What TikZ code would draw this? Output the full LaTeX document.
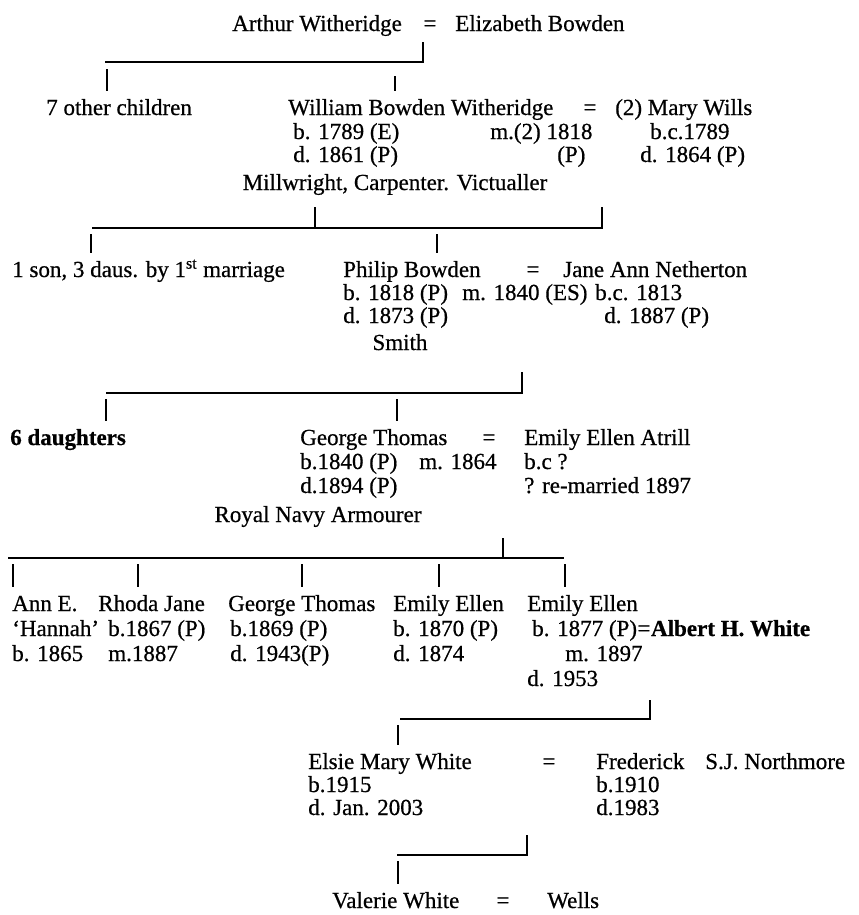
\documentclass[tikz,border=0pt]{standalone}
\usepackage{fontspec}
\setmainfont{Liberation Serif}
\newfontfamily\scanfont{Liberation Serif}[FakeBold=0.6]
\usepackage{tikz}

\newcommand{\treefont}{\scanfont\fontsize{17.25pt}{20pt}\selectfont}
\tikzset{
  txt/.style={anchor=base west, inner sep=0pt, font=\treefont},
  eq/.style={anchor=base, inner sep=0pt, font=\treefont},
  kid/.style={txt, text height=12pt},
  link/.style={line width=0.8pt},
  drop/.style={link, shorten >=6pt},
}

\begin{document}
\begin{tikzpicture}[x=0.75pt, y=-0.75pt]
  \useasboundingbox (0,0) rectangle (858,915);

  % Arthur and Elizabeth
  \node[txt] (arthur) at (232,31) {Arthur Witheridge};
  \node[eq] (eqArthur) at (430,31) {=};
  \node[txt] (elizabeth) at (455,31) {Elizabeth Bowden};
  \coordinate (topA) at (423,42);
  \coordinate (cornerA) at (423,62);
  \coordinate (barA) at (105,62);
  \coordinate (dropA1) at (107,69);
  \coordinate (dropA2) at (395,76);
  \draw[link] (topA) -- (cornerA) -- (barA);

  \node[kid] (otherKids) at (46,115) {7 other children};
  \node[kid] (william) at (288,115) {William Bowden Witheridge};
  \node[eq] (eqWilliam) at (590,115) {=};
  \node[txt] (mary) at (615,115) {(2) Mary Wills};
  \node[txt] (williamB) at (293,139) {b. 1789 (E)};
  \node[txt] (williamM) at (490,139) {m.(2) 1818};
  \node[txt] (maryB) at (650,139) {b.c.1789};
  \node[txt] (williamD) at (293,162) {d. 1861 (P)};
  \node[txt] (williamP) at (557,162) {(P)};
  \node[txt] (maryD) at (640,162) {d. 1864 (P)};
  \node[eq] (williamJob) at (395,190) {Millwright, Carpenter. Victualler};
  \draw[drop] (dropA1) -- (dropA1 |- otherKids.north);
  \draw[drop] (dropA2) -- (dropA2 |- william.north);

  % William and Mary
  \coordinate (topB1) at (315,207);
  \coordinate (topB2) at (602,207);
  \coordinate (tickB) at (315,228);
  \coordinate (cornerB) at (602,228);
  \coordinate (barB) at (92,228);
  \coordinate (dropB1) at (91,234);
  \coordinate (dropB2) at (437,234);
  \draw[link] (topB2) -- (cornerB) -- (barB);
  \draw[link] (topB1) -- (tickB);

  \node[kid] (firstKids) at (12,277) {1 son, 3 daus. by 1\textsuperscript{st} marriage};
  \node[kid] (philip) at (343,277) {Philip Bowden};
  \node[eq] (eqPhilip) at (533,277) {=};
  \node[txt] (jane) at (563,277) {Jane Ann Netherton};
  \node[txt] (philipB) at (343,300) {b. 1818 (P)};
  \node[txt] (philipM) at (462,300) {m. 1840 (ES)};
  \node[txt] (janeB) at (595,300) {b.c. 1813};
  \node[txt] (philipD) at (343,323) {d. 1873 (P)};
  \node[txt] (janeD) at (604,323) {d. 1887 (P)};
  \node[eq] (philipJob) at (400,350) {Smith};
  \draw[drop] (dropB1) -- (dropB1 |- firstKids.north);
  \draw[drop] (dropB2) -- (dropB2 |- philip.north);

  % Philip and Jane
  \coordinate (topC) at (522,372);
  \coordinate (cornerC) at (522,393);
  \coordinate (barC) at (106,393);
  \coordinate (dropC1) at (106,399);
  \coordinate (dropC2) at (397,399);
  \draw[link] (topC) -- (cornerC) -- (barC);

  \node[kid] (daughters) at (10,445) {\bfseries 6 daughters};
  \node[kid] (george) at (300,445) {George Thomas};
  \node[eq] (eqGeorge) at (489,445) {=};
  \node[txt] (emilyA) at (524,445) {Emily Ellen Atrill};
  \node[txt] (georgeB) at (300,469) {b.1840 (P)};
  \node[txt] (georgeM) at (419,469) {m. 1864};
  \node[txt] (emilyAB) at (524,469) {b.c ?};
  \node[txt] (georgeD) at (300,493) {d.1894 (P)};
  \node[txt] (emilyAR) at (524,493) {? re-married 1897};
  \node[eq] (georgeJob) at (318,522) {Royal Navy Armourer};
  \draw[drop] (dropC1) -- (dropC1 |- daughters.north);
  \draw[drop] (dropC2) -- (dropC2 |- george.north);

  % George and Emily Ellen
  \coordinate (topD) at (503,538);
  \coordinate (tickD) at (503,558);
  \coordinate (barD1) at (8,558);
  \coordinate (barD2) at (564,558);
  \draw[link] (barD1) -- (barD2);
  \draw[link] (topD) -- (tickD);

  \node[kid] (ann) at (12,611) {Ann E.};
  \node[kid] (rhoda) at (98,611) {Rhoda Jane};
  \node[kid] (georgeJr) at (228,611) {George Thomas};
  \node[kid] (emilyB) at (393,611) {Emily Ellen};
  \node[kid] (emilyC) at (527,611) {Emily Ellen};
  \node[txt] (hannah) at (12,636) {‘Hannah’};
  \node[txt] (annB) at (12,661) {b. 1865};
  \node[txt] (rhodaB) at (108,636) {b.1867 (P)};
  \node[txt] (rhodaM) at (108,661) {m.1887};
  \node[txt] (georgeJrB) at (230,636) {b.1869 (P)};
  \node[txt] (georgeJrD) at (230,661) {d. 1943(P)};
  \node[txt] (emilyBB) at (393,636) {b. 1870 (P)};
  \node[txt] (emilyBD) at (393,661) {d. 1874};
  \node[txt] (emilyCB) at (532,636) {b. 1877 (P)};
  \node[txt] (eqEmily) at (emilyCB.base east) {=};
  \node[txt] (albert) at (eqEmily.base east) {\bfseries Albert H. White};
  \node[txt] (emilyCM) at (565,661) {m. 1897};
  \node[txt] (emilyCD) at (527,686) {d. 1953};
  \foreach \kid/\x in {ann/13, rhoda/138, georgeJr/302, emilyB/439, emilyC/565}
    \draw[drop] (\x,564) coordinate (drop-\kid) -- (drop-\kid |- \kid.north);

  % Emily Ellen and Albert
  \coordinate (topE) at (650,700);
  \coordinate (cornerE) at (650,719);
  \coordinate (barE) at (400,719);
  \coordinate (dropE) at (398,725);
  \draw[link] (topE) -- (cornerE) -- (barE);

  \node[kid] (elsie) at (308,769) {Elsie Mary White};
  \node[eq] (eqElsie) at (549,769) {=};
  \node[txt] (frederick) at (596,769) {Frederick};
  \node[txt] (northmore) at (705,769) {S.J. Northmore};
  \node[txt] (elsieB) at (308,792) {b.1915};
  \node[txt] (elsieD) at (308,815) {d. Jan. 2003};
  \node[txt] (frederickB) at (596,792) {b.1910};
  \node[txt] (frederickD) at (596,815) {d.1983};
  \draw[drop] (dropE) -- (dropE |- elsie.north);

  % Elsie and Frederick
  \coordinate (topF) at (527,835);
  \coordinate (cornerF) at (527,855);
  \coordinate (barF) at (397,855);
  \coordinate (dropF) at (398,861);
  \draw[link] (topF) -- (cornerF) -- (barF);

  \node[kid] (valerie) at (332,908) {Valerie White};
  \node[eq] (eqValerie) at (503,908) {=};
  \node[txt] (wells) at (547,908) {Wells};
  \draw[drop] (dropF) -- (dropF |- valerie.north);
\end{tikzpicture}
\end{document}
